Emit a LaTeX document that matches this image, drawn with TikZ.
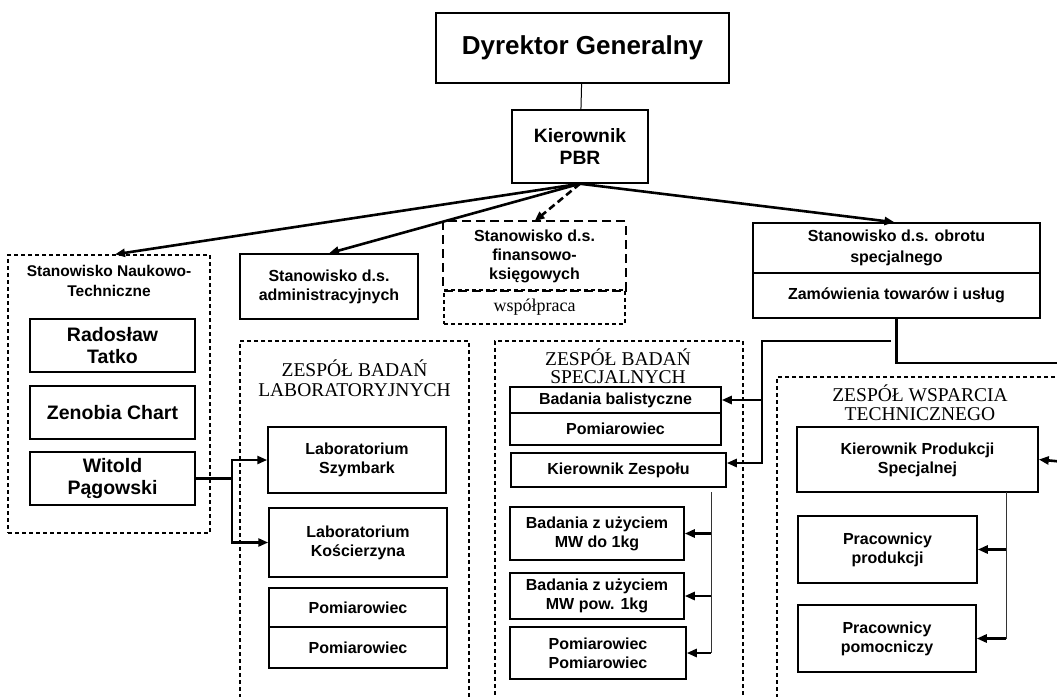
\documentclass[tikz,border=0pt]{standalone}
\usepackage{fontspec}
\setmainfont{Liberation Serif}
\setsansfont{Liberation Sans}
\usetikzlibrary{arrows.meta,calc}

\begin{document}
\begin{tikzpicture}[x=1pt,y=-1pt,>={Triangle[length=10pt,width=8pt]},
  box/.style={draw,line width=1.5pt,align=center,inner sep=0pt,
    font=\sffamily\bfseries\fontsize{16}{19}\selectfont},
  person/.style={box,font=\sffamily\bfseries\fontsize{19.5}{22}\selectfont},
  team/.style={draw,line width=1.3pt,dash pattern=on 4pt off 3pt,inner sep=0pt},
  teamtitle/.style={align=center,font=\rmfamily\fontsize{19.5}{19.5}\selectfont},
  wire/.style={line width=2.6pt},
  bus/.style={line width=1pt,black!80}]

\useasboundingbox (0,0) rectangle (1057,696);
\clip (0,0) rectangle (1057,696);

% top
\node[box,minimum width=293pt,minimum height=70pt,
  font=\sffamily\bfseries\fontsize{26}{30}\selectfont] (dyr) at (582.5,48) {Dyrektor Generalny};
\node[box,minimum width=136pt,minimum height=73pt,
  font=\sffamily\bfseries\fontsize{19.3}{22}\selectfont] (kier) at (580,146.5) {Kierownik\\PBR};

% stanowiska
\node[team,minimum width=202pt,minimum height=278pt] (nauk) at (109,394) {};
\node[align=center,font=\sffamily\bfseries\fontsize{15.5}{20}\selectfont] (naukT) at (109,281)
  {Stanowisko Naukowo-\\Techniczne};
\node[person,minimum width=165pt,minimum height=53pt] (rad) at (112.5,345.5) {Radosław\\Tatko};
\node[person,minimum width=165pt,minimum height=53pt] (zen) at (112.5,412.5) {Zenobia Chart};
\node[person,minimum width=165pt,minimum height=53pt] (wit) at (112.5,478.5) {Witold\\Pągowski};

\node[box,minimum width=178pt,minimum height=65pt] (adm) at (329,286.5) {Stanowisko d.s.\\administracyjnych};

\node[box,draw=none,minimum width=181pt,minimum height=68pt] (fin) at (534.5,256)
  {Stanowisko d.s.\\finansowo-\\księgowych};
\draw[line width=2.2pt,dash pattern=on 9pt off 5pt] (fin.north west) rectangle (fin.south east);
\node[team,minimum width=181pt,minimum height=34pt,line width=1.5pt,
  font=\rmfamily\fontsize{18}{20}\selectfont] (wsp) at (534.5,307) {współpraca};

\node[box,minimum width=287pt,minimum height=50pt,font=\sffamily\bfseries\fontsize{16}{21}\selectfont]
  (obrA) at (896.5,248) {Stanowisko d.s. obrotu\\specjalnego};
\node[box,minimum width=287pt,minimum height=45pt] (obrB) at (896.5,295.5) {Zamówienia towarów i usług};

% zespol badan laboratoryjnych
\node[team,minimum width=229pt,minimum height=379pt] (lab) at (354.5,530.5) {};
\node[teamtitle,font=\rmfamily\fontsize{19.5}{20}\selectfont] (labT) at (354.5,378) {ZESPÓŁ BADAŃ\\LABORATORYJNYCH};
\node[box,minimum width=178pt,minimum height=66pt] (szy) at (357,460) {Laboratorium\\Szymbark};
\node[box,minimum width=178pt,minimum height=69pt] (kos) at (358,542.5) {Laboratorium\\Kościerzyna};
\node[box,minimum width=178pt,minimum height=39pt] (pom1) at (358,607.5) {Pomiarowiec};
\node[box,minimum width=178pt,minimum height=41pt] (pom2) at (358,647.5) {Pomiarowiec};

% zespol badan specjalnych
\node[team,minimum width=248pt,minimum height=379pt] (spe) at (619,530.5) {};
\node[teamtitle,font=\rmfamily\fontsize{19.5}{18.5}\selectfont] (speT) at (618,366) {ZESPÓŁ BADAŃ\\SPECJALNYCH};
\node[box,minimum width=211pt,minimum height=26pt] (bal) at (615.5,400) {Badania balistyczne};
\node[box,minimum width=211pt,minimum height=32pt] (pom3) at (615.5,429) {Pomiarowiec};
\node[box,minimum width=215pt,minimum height=34pt] (kze) at (618.5,470) {Kierownik Zespołu};
\node[box,minimum width=174pt,minimum height=53pt] (mw1) at (597,533.5) {Badania z użyciem\\MW do 1kg};
\node[box,minimum width=174pt,minimum height=46pt] (mw2) at (597,596) {Badania z użyciem\\MW pow. 1kg};
\node[box,minimum width=176pt,minimum height=52pt] (pp) at (598,653) {Pomiarowiec\\Pomiarowiec};

% zespol wsparcia technicznego
\node[team,minimum width=293pt,minimum height=343pt] (wsz) at (923.5,548.5) {};
\node[teamtitle,font=\rmfamily\fontsize{19.5}{19}\selectfont] (wszT) at (920,403) {ZESPÓŁ WSPARCIA\\TECHNICZNEGO};
\node[box,minimum width=241pt,minimum height=65pt] (kps) at (917.5,459.5) {Kierownik Produkcji\\Specjalnej};
\node[box,minimum width=179pt,minimum height=67pt] (prp) at (887.5,549.5) {Pracownicy\\produkcji};
\node[box,minimum width=178pt,minimum height=67pt] (prm) at (887,638.5) {Pracownicy\\pomocniczy};

% free ends
\coordinate (witBus) at (232,478.5);
\coordinate (speIn) at (891,341);
\coordinate (speBus) at (762,341);
\coordinate (obrOut) at (1065,363);
\coordinate (kpsIn) at (1065,462);
\coordinate (kzeBus) at (711,492);
\coordinate (kpsBus) at (1006,492);

% connectors
\draw[line width=1pt] (dyr) -- (kier);
\draw[wire,->] (kier.south) -- ($(nauk.north)+(6,0)$);
\draw[wire,->] (kier.south) -- (adm.north);
\draw[wire,->,dashed,dash pattern=on 7pt off 4pt] (kier.south) -- (fin.north);
\draw[wire,->] (kier.south) -- ($(obrA.north)+(-2,0)$);

\draw[wire] (wit.east) -- (witBus);
\draw[wire,->] (witBus) |- (szy.west);
\draw[wire,->] (witBus) |- (kos.west);

\draw[wire] (obrB.south) |- (obrOut);
\draw[wire,->] (kpsIn) -- (kps.east);

\draw[wire,->] (speIn) -- (speBus) |- ([yshift=7pt]kze.east);
\draw[wire,->] (speBus |- bal.east) -- (bal.east);

\draw[bus] (kzeBus) -- (kzeBus |- pp.east);
\draw[wire,->] (kzeBus |- mw1.east) -- (mw1.east);
\draw[wire,->] (kzeBus |- mw2.east) -- (mw2.east);
\draw[wire,->] (kzeBus |- pp.east) -- (pp.east);

\draw[bus] (kpsBus) -- (kpsBus |- prm.east);
\draw[wire,->] (kpsBus |- prp.east) -- (prp.east);
\draw[wire,->] (kpsBus |- prm.east) -- (prm.east);

\end{tikzpicture}
\end{document}
